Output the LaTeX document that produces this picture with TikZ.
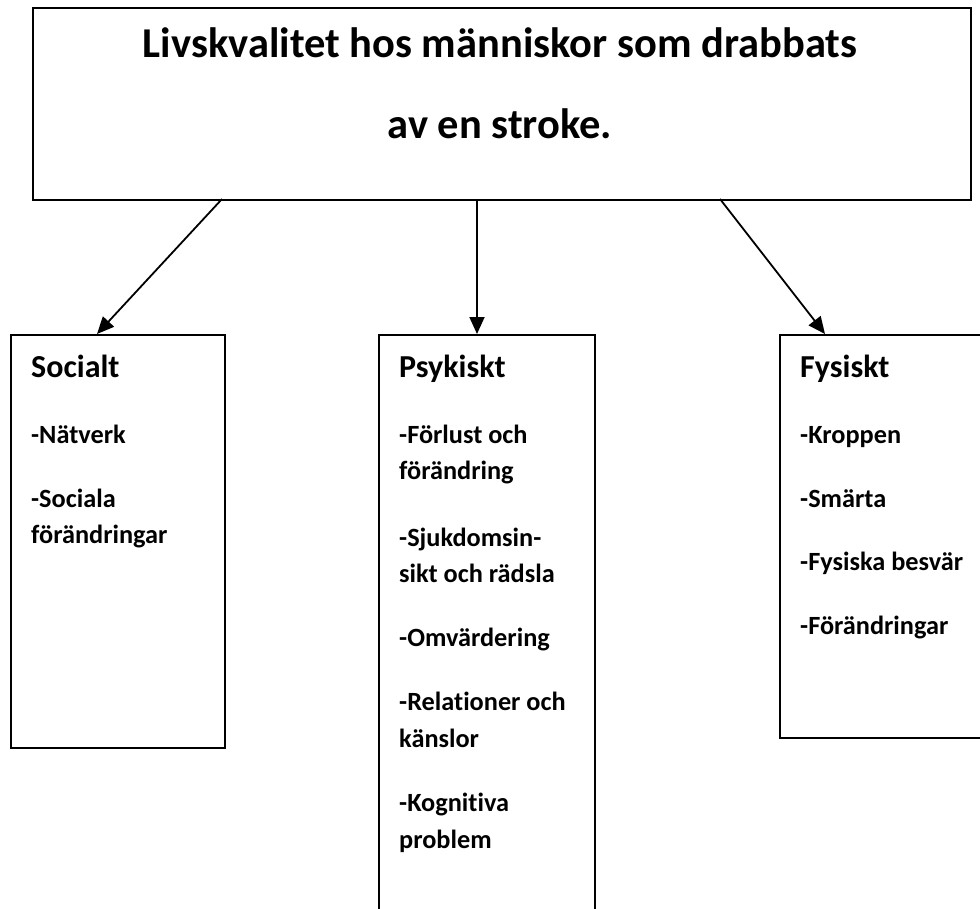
\documentclass[tikz,border=0pt]{standalone}
\usepackage{fontspec}
\setmainfont{Carlito}[Ligatures=NoCommon]
\usetikzlibrary{arrows.meta}
\begin{document}
\begin{tikzpicture}[x=1pt,y=-1pt,
  box/.style={draw=black,line width=1.8pt,inner sep=0pt,anchor=north west},
  arr/.style={line width=1.8pt,-{Triangle[length=17pt,width=15pt]}},
  ttl/.style={font=\fontsize{42.5}{42.5}\selectfont\bfseries,anchor=base,inner sep=0pt},
  hd/.style={font=\fontsize{32}{32}\selectfont\bfseries,anchor=base west,inner sep=0pt},
  it/.style={font=\fontsize{26.3}{26.3}\selectfont\bfseries,anchor=base west,inner sep=0pt}]
\useasboundingbox (0,0) rectangle (980,908);
\clip (0,0) rectangle (980,908);
% boxes
\node[box,minimum width=938pt,minimum height=192pt] (title) at (32,7) {};
\node[box,minimum width=214pt,minimum height=413pt] (soc) at (10,334) {};
\node[box,minimum width=216pt,minimum height=600pt] (psy) at (378,334) {};
\node[box,minimum width=220pt,minimum height=403pt] (fys) at (779,334) {};
% title text
\node[ttl] (t1) at (500,57) {Livskvalitet hos människor som drabbats};
\node[ttl] (t2) at (500,138) {av en stroke.};
% connectors
\coordinate (a1) at (222,199);
\coordinate (a2) at (477,199);
\coordinate (a3) at (720,199);
\coordinate (b1) at (97,334);
\coordinate (b2) at (477,334);
\coordinate (b3) at (825,334);
\draw[arr] (a1) -- (b1);
\draw[arr] (a2) -- (b2);
\draw[arr] (a3) -- (b3);
% Socialt
\node[hd] (s0) at (31,377) {Socialt};
\node[it] (s1) at (31,443) {-Nätverk};
\node[it] (s2) at (31,507) {-Sociala};
\node[it] (s3) at (31,543) {förändringar};
% Psykiskt
\node[hd] (p0) at (399,377) {Psykiskt};
\node[it] (p1) at (399,443) {-Förlust och};
\node[it] (p2) at (399,479) {förändring};
\node[it] (p3) at (399,546) {-Sjukdomsin-};
\node[it] (p4) at (399,582) {sikt och rädsla};
\node[it] (p5) at (399,646) {-Omvärdering};
\node[it] (p6) at (399,710) {-Relationer och};
\node[it] (p7) at (399,747) {känslor};
\node[it] (p8) at (399,811) {-Kognitiva};
\node[it] (p9) at (399,848) {problem};
% Fysiskt
\node[hd] (f0) at (800,377) {Fysiskt};
\node[it] (f1) at (800,443) {-Kroppen};
\node[it] (f2) at (800,507) {-Smärta};
\node[it] (f3) at (800,570) {-Fysiska besvär};
\node[it] (f4) at (800,634) {-Förändringar};
\end{tikzpicture}
\end{document}
